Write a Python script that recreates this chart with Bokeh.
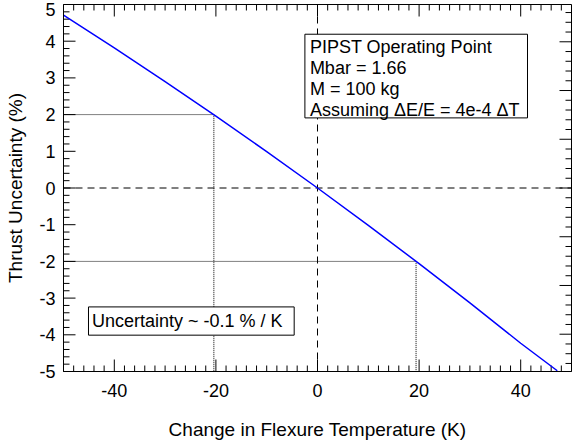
from bokeh.plotting import figure
from bokeh.models import Range1d, FixedTicker, BoxAnnotation, Label, CustomJSTickFormatter
from bokeh.embed import file_html
from bokeh.resources import INLINE

# ---- data ----
temp_change = [-50, -40, -30, -20, -10, 0, 10, 20, 30, 40, 47.2]          # K
thrust_unc = [4.71, 3.82, 2.90, 1.96, 0.99, 0.0, -1.02, -2.06, -3.13, -4.23, -4.98]  # %
mark_unc = [2, -2]            # % levels highlighted with dotted lines
mark_temp = [-20.4, 19.4]     # K where the curve reaches those levels
x_lim = [-50, 50]
y_lim = [-5, 5]
x_ticks = [-40, -20, 0, 20, 40]
y_ticks = [-5, -4, -3, -2, -1, 0, 1, 2, 3, 4, 5]
right_scale = 0.753           # secondary (right) axis scale factor
x_minor_step = 2
y_minor_step = 0.2
info_lines = ["PIPST Operating Point", "Mbar = 1.66", "M = 100 kg",
              "Assuming \u0394E/E = 4e-4 \u0394T"]
slope_text = "Uncertainty ~ -0.1 % / K"

FONT = "Liberation Sans"
FS = "18px"
FS_TITLE = "19px"
MAJ, MIN = 12, 6   # inward tick lengths (px)

W, H = 574, 444
BL, BR, BT, BB = 63, 3, 4, 73
xpp = (x_lim[1] - x_lim[0]) / (W - BL - BR)     # data units per pixel
ypp = (y_lim[1] - y_lim[0]) / (H - BT - BB)

p = figure(width=W, height=H, x_range=Range1d(*x_lim), y_range=Range1d(*y_lim),
           output_backend="svg", toolbar_location=None,
           min_border_left=BL, min_border_right=BR, min_border_top=BT, min_border_bottom=BB)
p.grid.visible = False
p.outline_line_color = "black"
p.outline_line_width = 1

int_fmt = CustomJSTickFormatter(code="return Math.round(tick).toString();")

for ax in (p.xaxis[0], p.yaxis[0]):
    ax.axis_line_color = "black"
    ax.major_tick_in = 0
    ax.major_tick_out = 0
    ax.minor_tick_in = 0
    ax.minor_tick_out = 0
    ax.minor_tick_line_color = None
    ax.major_label_text_font = FONT
    ax.major_label_text_font_size = FS
    ax.major_label_text_color = "black"
    ax.axis_label_text_font = FONT
    ax.axis_label_text_font_size = FS_TITLE
    ax.axis_label_text_font_style = "normal"
    ax.axis_label_text_color = "black"
    ax.formatter = int_fmt

xa = p.xaxis[0]
xa.ticker = FixedTicker(ticks=x_ticks)
xa.axis_label = "Change in Flexure Temperature (K)"
xa.major_label_standoff = 12
xa.axis_label_standoff = 19

# y labels: the top-most one is nudged down ~5 px so it stays inside the picture
ya = p.yaxis[0]
ya.ticker = FixedTicker(ticks=[t if t < y_lim[1] else t - 5 * ypp for t in y_ticks])
ya.axis_label = "Thrust Uncertainty (%)"
ya.major_label_standoff = 8
ya.axis_label_standoff = 10


# ---- inward ticks drawn as short segments from the frame edges ----
def steps(lo, hi, step):
    n0 = int(round(lo / step))
    n1 = int(round(hi / step))
    return [round(n * step, 6) for n in range(n0 - 1, n1 + 2) if lo - 1e-9 <= n * step <= hi + 1e-9]


def is_multiple(v, step):
    return abs(v / step - round(v / step)) < 1e-6


x_minor = [v for v in steps(x_lim[0], x_lim[1], x_minor_step) if v not in x_ticks]
y_minor = [v for v in steps(y_lim[0], y_lim[1], y_minor_step) if not is_multiple(v, 1)]
r_all = steps(y_lim[0] * right_scale, y_lim[1] * right_scale, 0.2)
r_major = [v / right_scale for v in r_all if is_multiple(v, 1)]
r_minor = [v / right_scale for v in r_all if not is_multiple(v, 1)]

for xs, ln in ((x_ticks, MAJ), (x_minor, MIN)):
    n = len(xs)
    p.segment(x0=xs, x1=xs, y0=[y_lim[0]] * n, y1=[y_lim[0] + ln * ypp] * n,
              line_color="black", line_width=1)
    p.segment(x0=xs, x1=xs, y0=[y_lim[1]] * n, y1=[y_lim[1] - ln * ypp] * n,
              line_color="black", line_width=1)
for ys, ln in ((y_ticks, MAJ), (y_minor, MIN)):
    n = len(ys)
    p.segment(x0=[x_lim[0]] * n, x1=[x_lim[0] + ln * xpp] * n, y0=ys, y1=ys,
              line_color="black", line_width=1)
for ys, ln in ((r_major, MAJ), (r_minor, MIN)):
    n = len(ys)
    p.segment(x0=[x_lim[1]] * n, x1=[x_lim[1] - ln * xpp] * n, y0=ys, y1=ys,
              line_color="black", line_width=1)

# dashed zero lines (as glyphs)
p.line(x=[0, 0], y=y_lim, line_color="black", line_dash="7 5", line_width=1)
p.line(x=x_lim, y=[0, 0], line_color="black", line_dash="7 5", line_width=1)

# dotted guides
for mx, my in zip(mark_temp, mark_unc):
    p.line(x=[x_lim[0], mx, mx], y=[my, my, y_lim[0]], line_color="black",
           line_dash="1 1", line_width=1)

# main curve
p.line(x=temp_change, y=thrust_unc, line_color="#0000ff", line_width=1.5)

# info box
p.add_layout(BoxAnnotation(left=-2.48, right=41.34, top=4.19, bottom=1.91,
                           fill_color="white", fill_alpha=1, line_color="black",
                           line_alpha=1, line_width=1))
for i, t in enumerate(info_lines):
    p.add_layout(Label(x=-1.5, y=3.84 - 0.572 * i, text=t, text_font=FONT,
                       text_font_size=FS, text_baseline="middle", text_color="black"))

p.add_layout(BoxAnnotation(left=-45.08, right=-4.59, top=-3.24, bottom=-4.01,
                           fill_color="white", fill_alpha=1, line_color="black",
                           line_alpha=1, line_width=1))
p.add_layout(Label(x=-44.4, y=-3.628, text=slope_text, text_font=FONT,
                   text_font_size=FS, text_baseline="middle", text_color="black"))

open("out.html", "w").write(file_html(p, INLINE))
